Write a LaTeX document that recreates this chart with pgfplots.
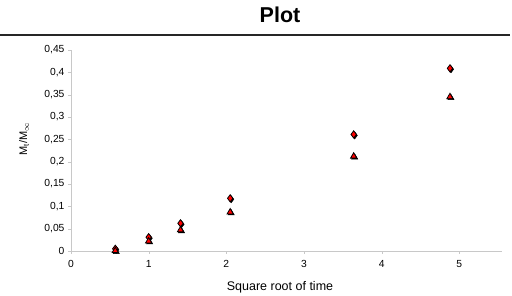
\documentclass[border=0pt]{standalone}
\usepackage{fontspec}
\setmainfont{Liberation Sans}
\usepackage{pgfplots}
\pgfplotsset{compat=1.18}
\definecolor{axgray}{RGB}{200,200,200}
\begin{document}
\begin{tikzpicture}
\path[use as bounding box] (-71pt,-45pt) rectangle (441pt,251pt);
\begin{axis}[
  at={(0pt,0pt)}, anchor=south west,
  scale only axis, width=431pt, height=201pt,
  xmin=0, xmax=5.55, ymin=0, ymax=0.45,
  axis lines=left, axis line style={axgray, -},
  xtick={0,1,2,3,4,5},
  ytick={0,0.05,0.1,0.15,0.2,0.25,0.3,0.35,0.4,0.45},
  tick align=outside, major tick length=3pt,
  tick style={axgray},
  yticklabel style={/pgf/number format/.cd, use comma, fixed, precision=2},
  /pgf/number format/assume math mode=true,
  ticklabel style={font=\fontsize{10.3}{12}\selectfont},
  xticklabel style={yshift=-3pt},
  clip=false,
]
\addplot[only marks, mark=diamond*, mark size=3.6pt, mark options={fill=black, draw=black, xshift=1pt, yshift=-1pt}]
coordinates {(0.57,0.005) (1.0,0.031) (1.41,0.062) (2.05,0.118) (3.64,0.261) (4.88,0.409)};
\addplot[only marks, mark=triangle*, mark size=3.6pt, mark options={fill=black, draw=black, xshift=1pt, yshift=-1pt}]
coordinates {(0.57,0.0005) (1.0,0.022) (1.41,0.047) (2.05,0.087) (3.64,0.212) (4.88,0.345)};
\addplot[only marks, mark=diamond*, mark size=3.6pt, mark options={fill=red, draw=black, line width=0.8pt}]
coordinates {(0.57,0.005) (1.0,0.031) (1.41,0.062) (2.05,0.118) (3.64,0.261) (4.88,0.409)};
\addplot[only marks, mark=triangle*, mark size=3.6pt, mark options={fill=red, draw=black, line width=0.8pt}]
coordinates {(0.57,0.0005) (1.0,0.022) (1.41,0.047) (2.05,0.087) (3.64,0.212) (4.88,0.345)};
\end{axis}
\draw[line width=1.5pt, black!85] (-71pt,216pt) -- (439pt,216pt);
\node[font=\bfseries\fontsize{21.5}{24}\selectfont] at (209pt,236pt) {Plot};
\node[font=\fontsize{12.5}{14}\selectfont] at (209pt,-36pt) {Square root of time};
\node[font=\fontsize{11}{12}\selectfont, rotate=90] at (-47pt,112pt) {M\textsubscript{t}/M\textsubscript{$\infty$}};
\end{tikzpicture}
\end{document}
